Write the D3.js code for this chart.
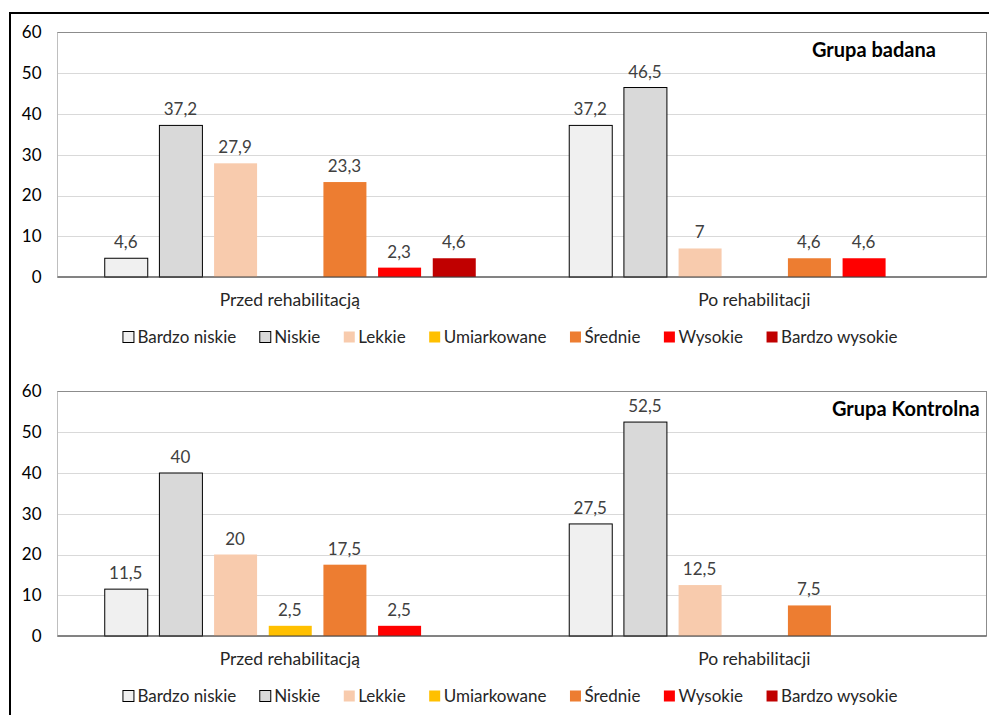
<!DOCTYPE html>
<html>
<head>
<meta charset="utf-8">
<script src="https://cdn.jsdelivr.net/npm/d3@7"></script>
<style>
  html, body { margin: 0; padding: 0; background: #fff; }
  svg { display: block; }
  text { font-family: Lato, "Noto Sans", "DejaVu Sans", sans-serif; }
</style>
</head>
<body>
<svg id="chart" width="989" height="715"></svg>
<script>
// Levels shown in each group, in drawing order
const series = ["Bardzo niskie", "Niskie", "Lekkie", "Umiarkowane", "Średnie", "Wysokie", "Bardzo wysokie"];
const seriesColors = ["#F0F0F0", "#D9D9D9", "#F8CBAD", "#FFC000", "#ED7D31", "#FF0000", "#C00000"];
const outlined = [true, true, false, false, false, false, false];

const categories = ["Przed rehabilitacją", "Po rehabilitacji"];
const yTicks = [0, 10, 20, 30, 40, 50, 60];

// Percentages per level (null = no bar)
const badanaPrzed = [4.6, 37.2, 27.9, null, 23.3, 2.3, 4.6];
const badanaPo = [37.2, 46.5, 7, null, 4.6, 4.6, null];
const kontrolnaPrzed = [11.5, 40, 20, 2.5, 17.5, 2.5, null];
const kontrolnaPo = [27.5, 52.5, 12.5, null, 7.5, null, null];

const panels = [
  { title: "Grupa badana", titleX: 812, top: 32.5, values: [badanaPrzed, badanaPo] },
  { title: "Grupa Kontrolna", titleX: 832, top: 391.5, values: [kontrolnaPrzed, kontrolnaPo] }
];

const svg = d3.select("#chart");
const plotLeft = 57.5, plotRight = 986.5, plotH = 244.5;
const fmt = v => String(v).replace(".", ",");

// Outer frame (top and left edges)
svg.append("path")
  .attr("d", "M10,715 L10,13 L989,13")
  .attr("fill", "none").attr("stroke", "#000").attr("stroke-width", 2);

const x0 = d3.scaleBand().domain(categories).range([plotLeft, plotRight]).padding(0);
const x1 = d3.scaleBand().domain(series).range([0, x0.bandwidth()])
  .paddingInner(0.2134).paddingOuter(0.855);

panels.forEach(p => {
  const g = svg.append("g");
  const y = d3.scaleLinear().domain([0, 60]).range([p.top + plotH, p.top]);

  // Gridlines
  g.append("g").selectAll("line").data(yTicks.filter(t => t > 0 && t < 60)).join("line")
    .attr("x1", plotLeft).attr("x2", plotRight)
    .attr("y1", d => Math.round(y(d)) + 0.5).attr("y2", d => Math.round(y(d)) + 0.5)
    .attr("stroke", "#D9D9D9").attr("stroke-width", 1);

  // Plot area border
  g.append("rect")
    .attr("x", plotLeft).attr("y", p.top)
    .attr("width", plotRight - plotLeft).attr("height", plotH)
    .attr("fill", "none").attr("stroke", "#8C8C8C").attr("stroke-width", 1);
  g.append("line")
    .attr("x1", plotLeft).attr("x2", plotLeft)
    .attr("y1", p.top).attr("y2", p.top + plotH)
    .attr("stroke", "#BFBFBF");

  // Y axis labels
  const yAxis = d3.axisLeft(y).tickValues(yTicks).tickSize(0).tickPadding(16).tickFormat(d3.format("d"));
  const ya = g.append("g").attr("transform", `translate(${plotLeft},0)`).call(yAxis);
  ya.select(".domain").remove();
  ya.selectAll("text").attr("font-size", 17).attr("fill", "#000")
    .style("font-family", "Lato, 'Noto Sans', sans-serif");

  // Bars
  categories.forEach((cat, ci) => {
    const vals = p.values[ci];
    const cg = g.append("g").attr("transform", `translate(${x0(cat)},0)`);
    const data = series.map((s, i) => ({ s, i, v: vals[i] })).filter(d => d.v != null);
    cg.selectAll("rect").data(data).join("rect")
      .attr("x", d => x1(d.s) + 0.5)
      .attr("y", d => y(d.v))
      .attr("width", x1.bandwidth())
      .attr("height", d => y(0) - y(d.v))
      .attr("fill", d => seriesColors[d.i])
      .attr("stroke", d => outlined[d.i] ? "#000" : "none")
      .attr("stroke-width", 1);
    cg.selectAll("text.val").data(data).join("text")
      .attr("class", "val")
      .attr("x", d => x1(d.s) + x1.bandwidth() / 2)
      .attr("y", d => y(d.v) - 10)
      .attr("text-anchor", "middle")
      .attr("font-size", 17).attr("fill", "#404040")
      .text(d => fmt(d.v));
  });

  // Baseline
  g.append("line")
    .attr("x1", plotLeft).attr("x2", plotRight)
    .attr("y1", y(0)).attr("y2", y(0))
    .attr("stroke", "#404040").attr("stroke-width", 1.2);

  // Category labels
  g.selectAll("text.cat").data(categories).join("text")
    .attr("class", "cat")
    .attr("x", d => x0(d) + x0.bandwidth() / 2)
    .attr("y", y(0) + 29)
    .attr("text-anchor", "middle")
    .attr("font-size", 17.5).attr("fill", "#262626")
    .text(d => d);

  // Panel title
  g.append("text")
    .attr("x", p.titleX).attr("y", p.top + 24)
    .attr("font-size", 20).attr("font-weight", "bold").attr("fill", "#000")
    .text(p.title);

  // Legend
  const legY = p.top + plotH + 60;
  const lg = g.append("g");
  const items = lg.selectAll("g").data(series).join("g");
  items.append("rect")
    .attr("width", 11).attr("height", 11)
    .attr("y", legY - 5.5)
    .attr("fill", (d, i) => seriesColors[i])
    .attr("stroke", (d, i) => outlined[i] ? "#000" : "none");
  items.append("text")
    .attr("y", legY + 6)
    .attr("font-size", 17).attr("fill", "#262626")
    .text(d => d);
  let cx = 0;
  const pos = [];
  items.each(function () {
    const w = d3.select(this).select("text").node().getComputedTextLength();
    pos.push(cx);
    cx += 11 + 4 + w + 23;
  });
  const total = cx - 23;
  const startX = 510 - total / 2;
  items.each(function (d, i) {
    const sel = d3.select(this);
    sel.select("rect").attr("x", startX + pos[i] + 0.5);
    sel.select("text").attr("x", startX + pos[i] + 15);
  });
});
</script>
</body>
</html>
